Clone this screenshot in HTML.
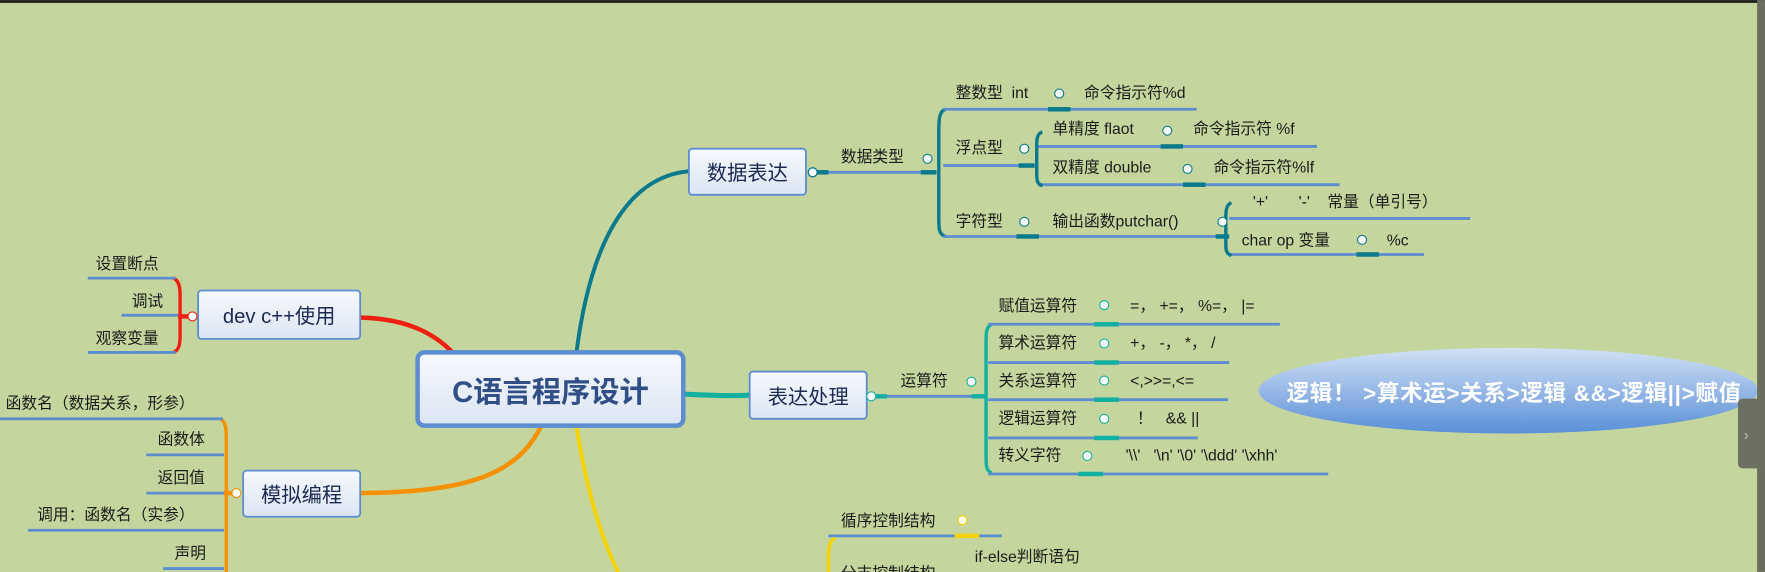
<!DOCTYPE html>
<html><head><meta charset="utf-8"><style>
html,body{margin:0;padding:0;background:#c4d69d;}
svg{display:block;}
text{font-family:"Liberation Sans","Noto Sans CJK SC",sans-serif;fill:#1b1b1b;white-space:pre;}
</style></head><body>
<svg width="1765" height="572" viewBox="0 0 1568 508" xmlns="http://www.w3.org/2000/svg" xml:space="preserve">
<defs>
<linearGradient id="ng" x1="0" y1="0" x2="0" y2="1"><stop offset="0" stop-color="#f7f9fd"/><stop offset="1" stop-color="#dbe5f3"/></linearGradient>
<linearGradient id="eg" x1="0" y1="0" x2="0" y2="1"><stop offset="0" stop-color="#d2e1f5"/><stop offset="1" stop-color="#5a8fd8"/></linearGradient>
</defs>
<rect x="0" y="0" width="1568" height="508" fill="#c4d69d"/>
<rect x="0" y="0" width="1568" height="2.5" fill="#1e1e1e"/>

<path d="M512,314 C522,235 548,158 612,152" stroke="#0b7a8c" stroke-width="3.5" fill="none"/>
<path d="M606,350 C630,351 645,352 666,351" stroke="#12b0a0" stroke-width="4.5" fill="none"/>
<path d="M512,378 C522,440 535,480 550,510" stroke="#f5d300" stroke-width="3.5" fill="none"/>
<path d="M403,314 C385,295 360,283 320,282" stroke="#ee2010" stroke-width="4" fill="none"/>
<path d="M481,378 C460,420 420,437 320,438" stroke="#f59000" stroke-width="4" fill="none"/>

<rect x="371" y="313" width="236" height="65" rx="6" fill="url(#ng)" stroke="#5b8dd0" stroke-width="4"/>
<text x="489" y="357" font-size="26" font-weight="bold" text-anchor="middle" style="fill:#2f4f86">C语言程序设计</text>

<rect x="612" y="132" width="104" height="41" rx="3" fill="url(#ng)" stroke="#5b8dd0" stroke-width="1.6"/>
<text x="664" y="160" font-size="18" text-anchor="middle" style="fill:#1a2a50">数据表达</text>
<line x1="722" y1="153" x2="830" y2="153" stroke="#5b8dd0" stroke-width="2.5"/>
<rect x="722" y="151" width="14" height="4" fill="#0b7a8c"/>
<circle cx="722" cy="153" r="4" fill="#fff" stroke="#0b7a8c" stroke-width="1.2"/>
<text x="747" y="144" font-size="14">数据类型</text>
<circle cx="824" cy="141" r="4" fill="#fff" stroke="#0b7a8c"/>
<rect x="818" y="151" width="14" height="4" fill="#0b7a8c"/>
<path d="M840,97 C834,99 834,106 834,120 L834,192 C834,204 834,208 840,210" stroke="#0b7a8c" stroke-width="3" fill="none"/>
<g stroke="#5b8dd0" stroke-width="2.5">
<line x1="838" y1="97" x2="1063" y2="97"/>
<line x1="838" y1="147" x2="920" y2="147"/>
<line x1="922" y1="130" x2="1170" y2="130"/>
<line x1="922" y1="164" x2="1190" y2="164"/>
<line x1="838" y1="210" x2="1085" y2="210"/>
<line x1="1092" y1="194" x2="1306" y2="194"/>
<line x1="1092" y1="226" x2="1265" y2="226"/>
</g>
<g fill="#0b7a8c">
<rect x="931" y="95" width="20" height="4"/>
<rect x="1031" y="128" width="20" height="4"/>
<rect x="1051" y="162" width="20" height="4"/>
<rect x="905" y="145" width="14" height="4"/>
<rect x="903" y="208" width="20" height="4"/>
<rect x="1205" y="224" width="20" height="4"/>
<rect x="1080" y="208" width="12" height="4"/>
</g>
<path d="M926,117 C921,119 921,124 921,130 L921,153 C921,160 921,163 926,165" stroke="#0b7a8c" stroke-width="3" fill="none"/>
<path d="M1094,180 C1089,182 1089,188 1089,194 L1089,216 C1089,222 1089,225 1094,227" stroke="#0b7a8c" stroke-width="3" fill="none"/>
<g font-size="14">
<text x="849" y="87">整数型  int</text>
<text x="963" y="87">命令指示符%d</text>
<text x="849" y="136">浮点型</text>
<text x="935" y="119">单精度 flaot</text>
<text x="1060" y="119">命令指示符 %f</text>
<text x="935" y="153">双精度 double</text>
<text x="1078" y="153">命令指示符%lf</text>
<text x="849" y="201">字符型</text>
<text x="935" y="201">输出函数putchar()</text>
<text x="1113" y="184">'+'       '-'    常量（单引号）</text>
<text x="1103" y="218">char op 变量</text>
<text x="1232" y="218">%c</text>
</g>
<g fill="#fff" stroke="#0b7a8c" stroke-width="1">
<circle cx="941" cy="83" r="4"/><circle cx="910" cy="132" r="4"/><circle cx="1037" cy="116" r="4"/>
<circle cx="1055" cy="150" r="4"/><circle cx="910" cy="197" r="4"/><circle cx="1086" cy="197" r="4"/><circle cx="1210" cy="213" r="4"/>
</g>

<rect x="666" y="330" width="104" height="42" rx="3" fill="url(#ng)" stroke="#5b8dd0" stroke-width="1.6"/>
<text x="718" y="359" font-size="18" text-anchor="middle" style="fill:#1a2a50">表达处理</text>
<line x1="774" y1="352" x2="876" y2="352" stroke="#5b8dd0" stroke-width="2.5"/>
<rect x="774" y="350" width="14" height="4" fill="#12b0a0"/>
<rect x="863" y="350" width="14" height="4" fill="#12b0a0"/>
<circle cx="774" cy="352" r="4" fill="#fff" stroke="#12b0a0"/>
<text x="800" y="343" font-size="14">运算符</text>
<circle cx="863" cy="339" r="4" fill="#fff" stroke="#12b0a0"/>
<path d="M881,288 C876,290 876,296 876,304 L876,405 C876,414 876,418 881,420" stroke="#12b0a0" stroke-width="3" fill="none"/>
<g stroke="#5b8dd0" stroke-width="2.5">
<line x1="878" y1="288" x2="1137" y2="288"/>
<line x1="878" y1="322" x2="1092" y2="322"/>
<line x1="878" y1="355" x2="1091" y2="355"/>
<line x1="878" y1="389" x2="1064" y2="389"/>
<line x1="878" y1="421" x2="1180" y2="421"/>
</g>
<g fill="#12b0a0">
<rect x="972" y="286" width="22" height="4"/><rect x="972" y="320" width="22" height="4"/><rect x="972" y="353" width="22" height="4"/>
<rect x="972" y="387" width="22" height="4"/><rect x="958" y="419" width="22" height="4"/>
</g>
<g fill="#fff" stroke="#12b0a0" stroke-width="1">
<circle cx="981" cy="271" r="4"/><circle cx="981" cy="305" r="4"/><circle cx="981" cy="338" r="4"/><circle cx="981" cy="372" r="4"/><circle cx="966" cy="405" r="4"/>
</g>
<g font-size="14">
<text x="887" y="276">赋值运算符</text><text x="1004" y="276">=， +=， %=， |=</text>
<text x="887" y="309">算术运算符</text><text x="1004" y="309">+， -， *， /</text>
<text x="887" y="343">关系运算符</text><text x="1004" y="343">&lt;,&gt;&gt;=,&lt;=</text>
<text x="887" y="376">逻辑运算符</text><text x="1010" y="376">！   &amp;&amp; ||</text>
<text x="887" y="409">转义字符</text><text x="1000" y="409">'\\'   '\n' '\0' '\ddd' '\xhh'</text>
</g>

<ellipse cx="1340" cy="347" rx="222" ry="38" fill="url(#eg)"/>
<text x="1143" y="356" font-size="20" font-weight="bold" letter-spacing="0.6" style="fill:#fff">逻辑！ &gt;算术运&gt;关系&gt;逻辑 &amp;&amp;&gt;逻辑||&gt;赋值</text>

<rect x="1561" y="0" width="7" height="508" fill="#6b6d5e"/>
<rect x="1544" y="354" width="24" height="62" rx="4" fill="#6d6f62"/>
<text x="1549" y="391" font-size="14" font-weight="bold" style="fill:#a8a898">›</text>

<line x1="736" y1="476" x2="890" y2="476" stroke="#5b8dd0" stroke-width="2.5"/>
<rect x="848" y="474" width="22" height="4" fill="#f5d300"/>
<path d="M742,478 C737,480 736,486 736,495 L736,510" stroke="#f5d300" stroke-width="3" fill="none"/>
<text x="747" y="467" font-size="14">循序控制结构</text>
<circle cx="855" cy="462" r="4" fill="#fff" stroke="#f5d300"/>
<text x="866" y="499" font-size="14">if-else判断语句</text>
<text x="747" y="514" font-size="14">分支控制结构</text>

<rect x="176" y="258" width="144" height="43" rx="3" fill="url(#ng)" stroke="#5b8dd0" stroke-width="1.6"/>
<text x="248" y="287" font-size="18" text-anchor="middle" style="fill:#1a2a50">dev c++使用</text>
<path d="M154,247 C159,249 160,255 160,262 L160,298 C160,306 159,311 154,313" stroke="#ee2010" stroke-width="3" fill="none"/>
<rect x="158" y="279" width="14" height="4" fill="#ee2010"/>
<circle cx="171" cy="281" r="4" fill="#fff" stroke="#ee2010"/>
<g stroke="#5b8dd0" stroke-width="2.5">
<line x1="78" y1="247" x2="156" y2="247"/><line x1="108" y1="280" x2="158" y2="280"/><line x1="78" y1="313" x2="156" y2="313"/>
</g>
<g font-size="14">
<text x="85" y="239">设置断点</text><text x="117" y="272">调试</text><text x="85" y="305">观察变量</text>
</g>

<rect x="216" y="418" width="104" height="41" rx="3" fill="url(#ng)" stroke="#5b8dd0" stroke-width="1.6"/>
<text x="268" y="446" font-size="18" text-anchor="middle" style="fill:#1a2a50">模拟编程</text>
<path d="M196,372 C200,374 201,380 201,388 L201,510" stroke="#f59000" stroke-width="3" fill="none"/>
<rect x="199" y="436" width="12" height="4" fill="#f59000"/>
<circle cx="210" cy="438" r="4" fill="#fff" stroke="#f59000"/>
<g stroke="#5b8dd0" stroke-width="2.5">
<line x1="0" y1="372" x2="198" y2="372"/><line x1="130" y1="404" x2="199" y2="404"/><line x1="130" y1="438" x2="199" y2="438"/>
<line x1="25" y1="471" x2="199" y2="471"/><line x1="145" y1="505" x2="199" y2="505"/>
</g>
<g font-size="14">
<text x="5" y="363">函数名（数据关系，形参）</text>
<text x="140" y="395">函数体</text>
<text x="140" y="429">返回值</text>
<text x="33" y="462">调用：函数名（实参）</text>
<text x="155" y="496">声明</text>
</g>
</svg>
</body></html>
